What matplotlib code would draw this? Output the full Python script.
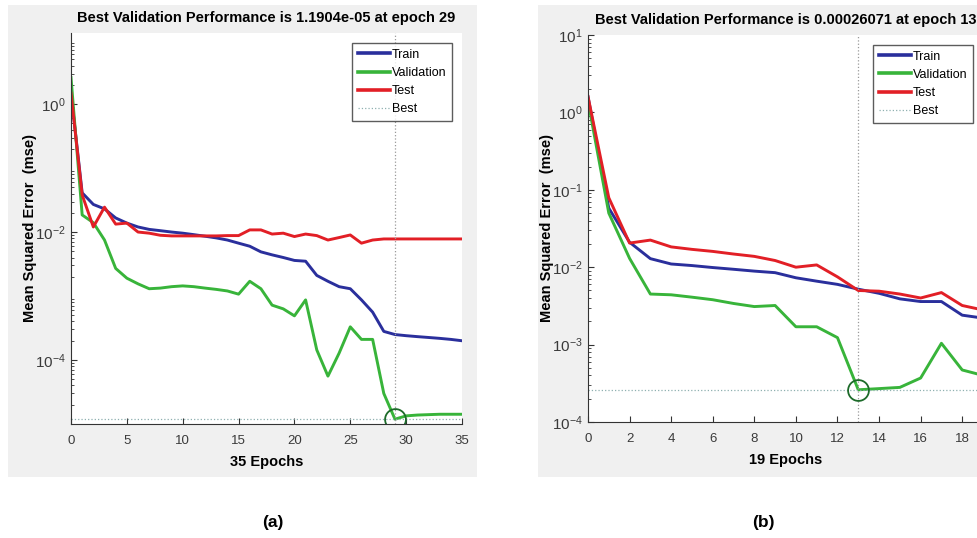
import numpy as np
import matplotlib
matplotlib.use('Agg')
import matplotlib.pyplot as plt
from matplotlib.patches import Rectangle

plt.rcParams['font.family'] = ['Liberation Sans', 'DejaVu Sans']
plt.rcParams['mathtext.fontset'] = 'custom'
plt.rcParams['mathtext.rm'] = 'Liberation Sans'
plt.rcParams['mathtext.it'] = 'Liberation Sans:italic'
plt.rcParams['mathtext.bf'] = 'Liberation Sans:bold'

# (a) 35 epochs
epochs_a = list(range(36))
train_a = [1.5, 0.041, 0.027, 0.023, 0.0166, 0.0138, 0.012, 0.011, 0.0105, 0.010,
           0.0096, 0.0091, 0.0086, 0.0081, 0.0075, 0.0067, 0.006, 0.0049, 0.0044, 0.004,
           0.0036, 0.0035, 0.0021, 0.0017, 0.0014, 0.0013, 0.00087, 0.00056, 0.00028, 0.00025,
           0.00024, 0.000232, 0.000225, 0.000218, 0.00021, 0.0002]
val_a = [2.6, 0.0185, 0.014, 0.0075, 0.0027, 0.0019, 0.00155, 0.0013, 0.00133, 0.0014,
         0.00144, 0.0014, 0.00133, 0.00127, 0.0012, 0.00107, 0.0017, 0.0013, 0.00072, 0.00063,
         0.00049, 0.00087, 0.000144, 5.6e-05, 0.000128, 0.00033, 0.00021, 0.00021, 3.0e-05, 1.1904e-05,
         1.34e-05, 1.38e-05, 1.4e-05, 1.42e-05, 1.42e-05, 1.42e-05]
test_a = [1.48, 0.038, 0.012, 0.0245, 0.0133, 0.0138, 0.010, 0.0096, 0.0089, 0.0087,
          0.0087, 0.0087, 0.0087, 0.0087, 0.0088, 0.0088, 0.0108, 0.0108, 0.0093, 0.0096,
          0.0085, 0.0093, 0.0088, 0.0075, 0.0082, 0.009, 0.0067, 0.0075, 0.0078, 0.0078,
          0.0078, 0.0078, 0.0078, 0.0078, 0.0078, 0.0078]
best_a = (29, 1.1904e-05)

# (b) 19 epochs
epochs_b = list(range(20))
train_b = [1.6, 0.058, 0.021, 0.0129, 0.011, 0.0105, 0.0099, 0.0094, 0.0089, 0.0085,
           0.0073, 0.0066, 0.006, 0.0052, 0.0046, 0.0039, 0.0036, 0.0036, 0.0024, 0.0022]
val_b = [1.4, 0.05, 0.013, 0.0045, 0.0044, 0.0041, 0.0038, 0.0034, 0.0031, 0.0032,
         0.0017, 0.0017, 0.00123, 0.00026071, 0.00027, 0.00028, 0.00037, 0.00104, 0.00047, 0.0004]
test_b = [1.6, 0.079, 0.0205, 0.0224, 0.0183, 0.017, 0.016, 0.0148, 0.0138, 0.0122,
          0.0100, 0.0107, 0.0075, 0.005, 0.0049, 0.0045, 0.0040, 0.0047, 0.0032, 0.0028]
best_b = (13, 0.00026071)

W, H = 978, 538
fig = plt.figure(figsize=(W/100, H/100), dpi=100)
fig.patch.set_facecolor('white')

def px(x0, y0, x1, y1):
    # pixel box -> figure fraction [left, bottom, width, height]
    return [x0/W, 1-y1/H, (x1-x0)/W, (y1-y0)/H]

# grey panel backgrounds
for box in [(8, 5, 477, 477), (538, 5, 990, 477)]:
    l, b, w, h = px(*box)
    fig.add_artist(Rectangle((l, b), w, h, transform=fig.transFigure,
                             facecolor='#f0f0f0', edgecolor='none', zorder=-10))

c_train = '#2a2f9c'
c_val = '#38b43a'
c_test = '#e21f26'
c_best = '#8fb0b0'

def panel(rect, ep, tr, va, te, best, xmax, ylim, xticks, yticks, title, xlabel):
    ax = fig.add_axes(rect)
    ax.set_facecolor('white')
    ax.plot(ep, tr, color=c_train, lw=2.1, label='Train')
    ax.plot(ep, va, color=c_val, lw=2.1, label='Validation')
    ax.plot(ep, te, color=c_test, lw=2.1, label='Test')
    ax.axhline(best[1], color=c_best, lw=0.9, ls=':', label='Best')
    ax.axvline(best[0], color='#999999', lw=0.9, ls=':')
    ax.plot([best[0]], [best[1]], 'o', mfc='none', mec='#1d6b2a', ms=15, mew=1.3)
    ax.set_yscale('log')
    ax.set_xlim(0, xmax)
    ax.set_ylim(*ylim)
    ax.set_xticks(xticks)
    ax.set_yticks(yticks)
    ax.set_yticklabels(['$10^{%d}$' % int(np.log10(v)) for v in yticks])
    ax.tick_params(direction='in', length=4, labelsize=9.5, labelcolor='#3a3a3a', color='#333333')
    ax.tick_params(axis='x', pad=8)
    ax.tick_params(axis='y', labelsize=11, pad=4)
    ax.tick_params(which='minor', direction='in', length=2, color='#333333')
    ax.minorticks_on()
    ax.xaxis.set_minor_locator(matplotlib.ticker.NullLocator())
    for s in ['top', 'right']:
        ax.spines[s].set_visible(False)
    for s in ['left', 'bottom']:
        ax.spines[s].set_color('#333333')
    ax.set_title(title, fontsize=10.5, fontweight='bold', pad=8)
    ax.set_xlabel(xlabel, fontsize=10.5, fontweight='bold', labelpad=6)
    ax.set_ylabel('Mean Squared Error  (mse)', fontsize=10.5, fontweight='bold', labelpad=-2)
    leg = ax.legend(loc='upper right', fontsize=9, frameon=True, fancybox=False,
                    handlelength=2.6, handletextpad=0.1, borderpad=0.45, labelspacing=0.5,
                    borderaxespad=0.8)
    leg.get_frame().set_edgecolor('#333333')
    leg.get_frame().set_linewidth(1.0)
    for ln in leg.get_lines()[:3]:
        ln.set_linewidth(2.6)
    return ax

ax1 = panel(px(71, 33, 462, 424), epochs_a, train_a, val_a, test_a, best_a, 35,
            (1e-5, 12.9), range(0, 36, 5), [1e-4, 1e-2, 1e0],
            'Best Validation Performance is 1.1904e-05 at epoch 29', '35 Epochs')
ax2 = panel(px(588, 35, 983, 422), epochs_b, train_b, val_b, test_b, best_b, 19,
            (1e-4, 1e1), range(0, 19, 2), [1e-4, 1e-3, 1e-2, 1e-1, 1e0, 1e1],
            'Best Validation Performance is 0.00026071 at epoch 13', '19 Epochs')

fig.text(273/W, 1-522/H, '(a)', ha='center', va='center', fontsize=12.5, fontweight='bold')
fig.text(763/W, 1-522/H, '(b)', ha='center', va='center', fontsize=12.5, fontweight='bold')

fig.savefig('out.png', dpi=100)
